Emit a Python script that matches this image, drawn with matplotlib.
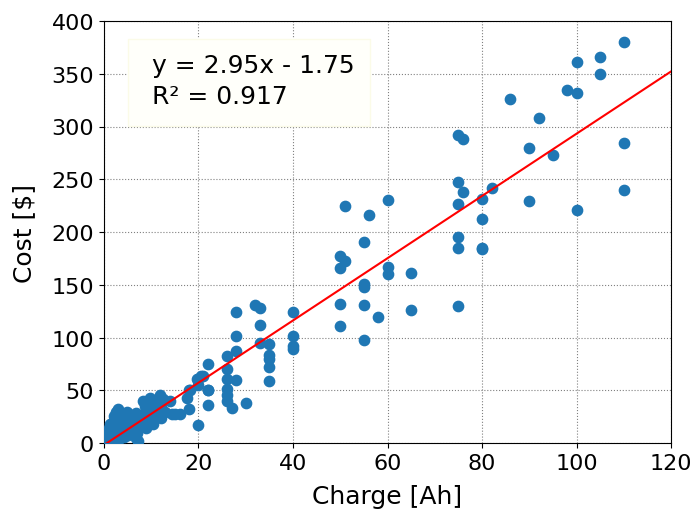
import numpy as np
import matplotlib
matplotlib.use("Agg")
import matplotlib.pyplot as plt
from matplotlib.patches import Rectangle

# ===================================== Data
charge_ah = [
    # dense cluster, small cells
    0.5, 0.5, 1, 1, 1, 1.2, 1.5, 1.5, 2, 2, 2, 2, 2.5, 2.5, 2.6, 3, 3, 3,
    3.5, 3.5, 3.7, 4, 4, 4, 4.5, 4.8, 5, 5, 5.5, 5.5, 6, 6, 6.5, 6.9, 6.9,
    7, 7, 7, 7.5, 7.8, 8, 8.3, 8.5, 9, 9, 9.7, 10, 10, 10.5, 11, 11, 11.9,
    12, 12, 12.5, 13, 14, 14.5, 15, 1.5, 2.2, 3.2, 4.2, 5.2, 6.2, 7.2, 8.8,
    # mid range
    16, 17.5, 18, 18, 18.2, 19.6, 20, 20, 20, 20.5, 21, 22, 22, 22, 22,
    26, 26, 26, 26, 26, 26, 27, 28, 28, 28, 28, 30, 32, 33, 33, 33,
    35, 35, 35, 35, 35, 40, 40, 40, 40,
    # 50-65 Ah
    50, 50, 50, 50, 51, 51, 55, 55, 55, 55, 55, 56, 58, 60, 60, 60, 65, 65,
    # large packs
    75, 75, 75, 75, 75, 75, 76, 76, 80, 80, 80, 80, 82, 86, 90, 90, 92, 95,
    98, 100, 100, 100, 105, 105, 110, 110, 110,
]
cost_usd = [
    3, 8, 5, 10, 14, 18, 6, 12, 4, 9, 15, 20, 7, 24, 30, 11, 17, 32,
    8, 22, 28, 13, 19, 25, 10, 30, 16, 22, 12, 27, 18, 25, 14, 5, 29,
    10, 21, 27, 16, 24, 18, 40, 28, 14, 22, 43, 26, 34, 18, 30, 38, 46,
    24, 36, 42, 30, 40, 28, 27.5, 2, 26, 4, 6, 8, 9, 2, 35,
    28, 43, 32, 50, 50, 61, 17, 55, 61, 64, 64, 36, 50, 75, 50,
    83, 70, 61, 51, 46, 40, 33, 124, 102, 87, 60, 38, 131, 128, 112, 95,
    94, 84, 80, 72, 59, 124, 102, 92, 89,
    177, 166, 132, 111, 225, 173, 191, 151, 148, 131, 98, 216, 120, 230, 167, 160, 161, 126,
    292, 247, 227, 195, 185, 130, 288, 238, 231, 212, 185, 184, 242, 326, 280, 229, 308, 273,
    335, 361, 332, 221, 366, 350, 380, 284, 240,
]

fit_slope = 2.95
fit_intercept = -1.75
fit_r2 = 0.917

# ===================================== Plot
plt.rcParams['font.size'] = 16
fig = plt.figure(figsize=(6.97, 5.10), dpi=100)
ax = fig.add_axes([0.149, 0.129, 0.814, 0.828])

ax.scatter(charge_ah, cost_usd, s=55, color='#1f77b4', zorder=3)

x_line = np.array([0, 120])
ax.plot(x_line, fit_slope * x_line + fit_intercept, color='red', lw=1.5, zorder=4)

# fit annotation box
ax.add_patch(Rectangle((0.042, 0.751), 0.427, 0.206, transform=ax.transAxes,
                       facecolor='#fffffa', edgecolor='#fbfbe8', lw=1, zorder=5))
ax.text(0.085, 0.925,
        f'y = {fit_slope:.2f}x - {abs(fit_intercept):.2f}\nR\u00b2 = {fit_r2:.3f}',
        transform=ax.transAxes, va='top', ha='left', fontsize=18, linespacing=1.4,
        zorder=6)

ax.set_xlim(0, 120)
ax.set_ylim(0, 400)
ax.set_xlabel('Charge [Ah]', fontsize=18, labelpad=8)
ax.set_ylabel('Cost [$]', fontsize=18, labelpad=11)
ax.grid(True, linestyle=':', color='gray', lw=0.8)

fig.savefig('out.png', dpi=100)
